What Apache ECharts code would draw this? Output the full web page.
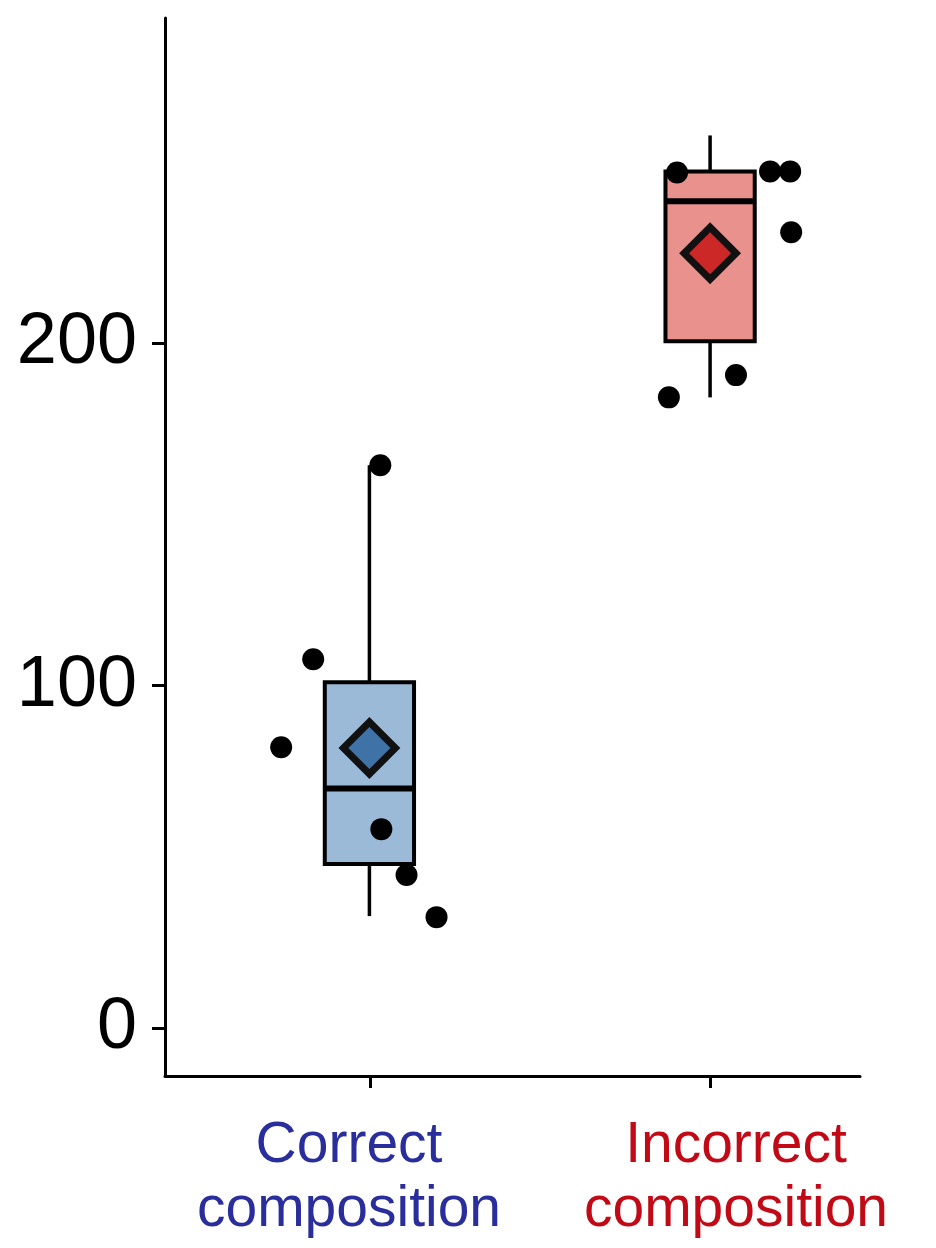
<!DOCTYPE html>
<html>
<head>
<meta charset="utf-8">
<script src="https://cdn.jsdelivr.net/npm/echarts@6/dist/echarts.min.js"></script>
<style>html,body{margin:0;padding:0;background:#fff}#c{width:936px;height:1248px}</style>
</head>
<body>
<div id="c"></div>
<script>
// ---- data ----
const categories = ['Correct composition', 'Incorrect composition'];
const categoryPositions = [1, 2];
// [lowerWhisker, q1, median, q3, upperWhisker]
const boxStatsCorrect = [32.7, 47.9, 70, 101, 164.4];
const boxStatsIncorrect = [184.2, 200.6, 241.5, 250.2, 260.7];
const meansValues = [81.8, 226.3];
// [jittered x, value]
const correctPoints = [[0.741, 82], [0.835, 107.7], [1.032, 164.4], [1.035, 58.1], [1.109, 44.7], [1.197, 32.4]];
const incorrectPoints = [[1.879, 184.2], [1.903, 249.9], [2.076, 190.7], [2.176, 250.2], [2.235, 250.2], [2.238, 232.4]];
const yTickValues = [0, 100, 200];

// ---- styles ----
const FONT = "'Liberation Sans', Arial, sans-serif";
const boxFill = ['#9bbad7', '#e8918d'];
const meanFill = ['#3f72a6', '#cc2828'];
const labelColors = ['#2a2e9c', '#c20a16'];
const BOX_HALF = 0.131;

const boxData = [
  [categoryPositions[0], ...boxStatsCorrect, 0],
  [categoryPositions[1], ...boxStatsIncorrect, 1]
];

const chart = echarts.init(document.getElementById('c'), null, {renderer: 'canvas'});
chart.setOption({
  backgroundColor: '#ffffff',
  animation: false,
  grid: [
    {left: 165, right: 76, top: 18, bottom: 172, containLabel: false},
    {left: 200, right: 56, top: 18, bottom: 172, containLabel: false}
  ],
  xAxis: [
    {
      type: 'value', gridIndex: 0, min: 0.4, max: 2.44,
      splitLine: {show: false},
      axisLine: {show: true, onZero: false, lineStyle: {color: '#000', width: 3}},
      axisTick: {show: false},
      axisLabel: {show: false}
    },
    {
      type: 'category', gridIndex: 1, data: categories, boundaryGap: true,
      splitLine: {show: false},
      axisLine: {show: false, onZero: false},
      axisTick: {show: true, alignWithLabel: true, length: 12, lineStyle: {color: '#000', width: 3}},
      axisLabel: {
        show: true, interval: 0, margin: 38,
        formatter: function (v, i) {
          const parts = v.split(' ');
          const k = i === 0 ? 'a' : 'b';
          return '{' + k + '|' + parts[0] + '}\n{' + k + '|' + parts[1] + '}';
        },
        rich: {
          a: {color: labelColors[0], fontSize: 57, fontFamily: FONT, lineHeight: 64, padding: [0, 42, 0, 0], align: 'center'},
          b: {color: labelColors[1], fontSize: 57, fontFamily: FONT, lineHeight: 64, padding: [0, 0, 0, 52], align: 'center'}
        }
      }
    }
  ],
  yAxis: [
    {
      type: 'value', gridIndex: 0, min: -14, max: 295,
      splitLine: {show: false},
      axisLine: {show: true, onZero: false, lineStyle: {color: '#000', width: 3}},
      axisTick: {show: true, customValues: yTickValues, length: 13, lineStyle: {color: '#000', width: 3}},
      axisLabel: {show: true, customValues: yTickValues, margin: 28, fontSize: 72, color: '#000', fontFamily: FONT}
    },
    {
      type: 'value', gridIndex: 1, min: -14, max: 295, show: false
    }
  ],
  series: [
    {
      type: 'custom',
      xAxisIndex: 0, yAxisIndex: 0,
      z: 2,
      data: boxData,
      encode: {x: 0, y: [1, 2, 3, 4, 5]},
      renderItem: function (params, api) {
        const x = api.value(0);
        const g = api.value(6);
        const lo = api.coord([x, api.value(1)]);
        const q1 = api.coord([x, api.value(2)]);
        const md = api.coord([x, api.value(3)]);
        const q3 = api.coord([x, api.value(4)]);
        const hi = api.coord([x, api.value(5)]);
        const l = api.coord([x - BOX_HALF, 0])[0];
        const r = api.coord([x + BOX_HALF, 0])[0];
        const line = {stroke: '#000', lineWidth: 3.5};
        return {
          type: 'group',
          children: [
            {type: 'line', shape: {x1: lo[0], y1: lo[1], x2: q1[0], y2: q1[1]}, style: line},
            {type: 'line', shape: {x1: q3[0], y1: q3[1], x2: hi[0], y2: hi[1]}, style: line},
            {type: 'rect', shape: {x: l, y: q3[1], width: r - l, height: q1[1] - q3[1]},
             style: {fill: boxFill[g], stroke: '#000', lineWidth: 4}},
            {type: 'line', shape: {x1: l, y1: md[1], x2: r, y2: md[1]}, style: {stroke: '#000', lineWidth: 6}}
          ]
        };
      }
    },
    {
      type: 'scatter', xAxisIndex: 0, yAxisIndex: 0, z: 3,
      data: correctPoints,
      symbol: 'circle', symbolSize: 22,
      itemStyle: {color: '#000', opacity: 1}
    },
    {
      type: 'scatter', xAxisIndex: 0, yAxisIndex: 0, z: 3,
      data: incorrectPoints,
      symbol: 'circle', symbolSize: 22,
      itemStyle: {color: '#000', opacity: 1}
    },
    {
      type: 'scatter', xAxisIndex: 0, yAxisIndex: 0, z: 4,
      data: [
        {value: [categoryPositions[0], meansValues[0]], itemStyle: {color: meanFill[0]}},
        {value: [categoryPositions[1], meansValues[1]], itemStyle: {color: meanFill[1]}}
      ],
      symbol: 'diamond', symbolSize: [52, 52],
      itemStyle: {borderColor: '#111', borderWidth: 7, opacity: 1}
    }
  ]
});
</script>
</body>
</html>
